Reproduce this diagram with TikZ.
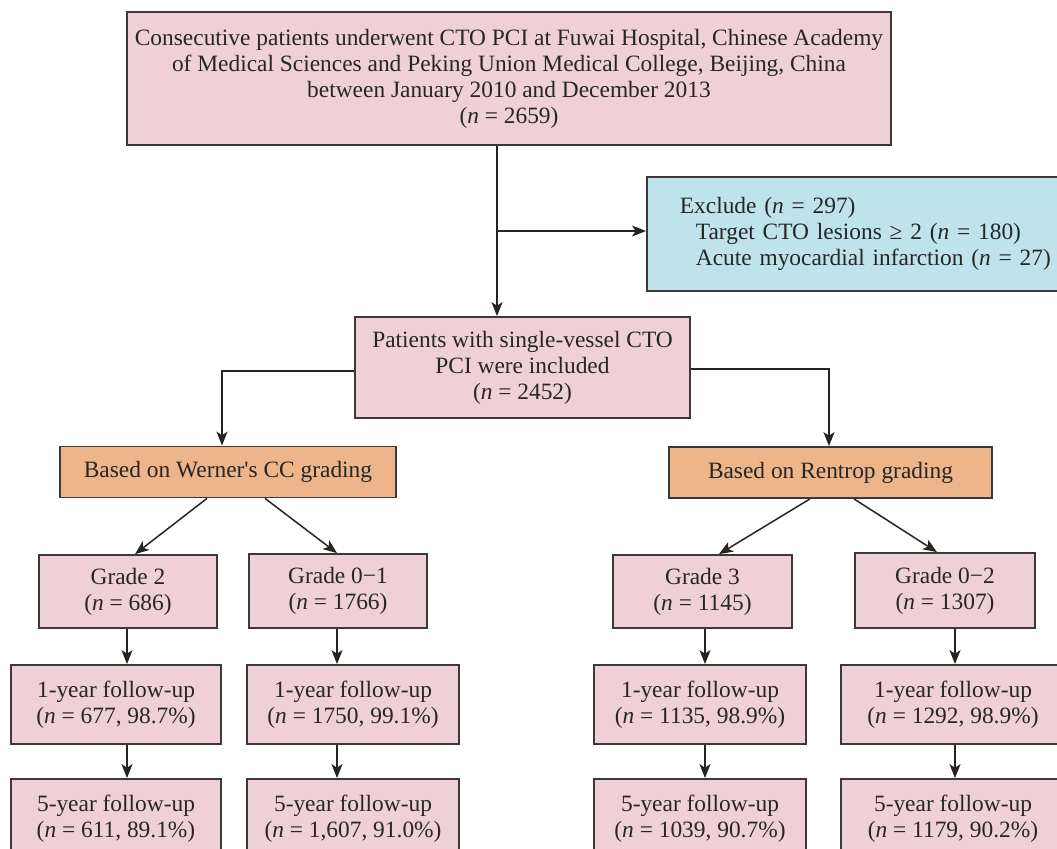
\documentclass[tikz,border=0pt]{standalone}
\usepackage{fontspec}
\setmainfont{Liberation Serif}
\usetikzlibrary{arrows.meta}
\definecolor{pinkf}{RGB}{239,208,214}
\definecolor{bluef}{RGB}{190,227,236}
\definecolor{orangef}{RGB}{237,181,137}
\definecolor{edgec}{RGB}{62,56,56}
\definecolor{linec}{RGB}{40,35,35}
\tikzset{
  box/.style={draw=edgec, line width=0.9pt, fill=pinkf, inner sep=0pt, align=center,
    font=\fontsize{11.7}{13}\selectfont, text=black!85},
  orbox/.style={box, fill=orangef},
  bluebox/.style={box, fill=bluef, align=left},
  arr/.style={draw=linec, line width=0.75pt, -{Stealth[length=7pt,width=5.5pt,inset=1.8pt]}},
}
\newcommand{\nn}{\textit{n}}
\begin{document}
\begin{tikzpicture}[x=0.5pt,y=-0.5pt]
\path[use as bounding box, clip] (0,0) rectangle (1057,848);
% boxes
\node[box, minimum width=382pt, minimum height=66.5pt] (top) at (509,78.5)
  {Consecutive patients underwent CTO PCI at Fuwai Hospital, Chinese Academy\\
   of Medical Sciences and Peking Union Medical College, Beijing, China\\
   between January 2010 and December 2013\\ (\nn{} = 2659)};
\node[bluebox, text width=200pt, inner xsep=16.5pt, minimum height=57pt, anchor=west] (excl) at (646,234)
  {Exclude (\nn{} = 297)\\
   \hspace*{8pt}Target CTO lesions ≥ 2 (\nn{} = 180)\\
   \hspace*{8pt}Acute myocardial infarction (\nn{} = 27)};
\node[box, minimum width=167.5pt, minimum height=50.5pt] (pat) at (522.5,367.5)
  {Patients with single-vessel CTO\\ PCI were included\\ (\nn{} = 2452)};
\node[orbox, minimum width=168.25pt, minimum height=25.5pt] (wer) at (228,472)
  {Based on Werner\textquotesingle s CC grading};
\node[orbox, minimum width=161.5pt, minimum height=25.5pt] (ren) at (830.5,472.5)
  {Based on Rentrop grading};
\node[box, minimum width=89pt, minimum height=36.5pt] (g2) at (128,591.5) {Grade 2\\ (\nn{} = 686)};
\node[box, minimum width=89pt, minimum height=37pt] (g01) at (338,591) {Grade 0−1\\ (\nn{} = 1766)};
\node[box, minimum width=89.5pt, minimum height=36.5pt] (g3) at (702.5,591.5) {Grade 3\\ (\nn{} = 1145)};
\node[box, minimum width=90pt, minimum height=37.5pt] (g02) at (945,590.5) {Grade 0−2\\ (\nn{} = 1307)};
\node[box, minimum width=105.25pt, minimum height=39.5pt] (fa) at (116,704.5) {1-year follow-up\\ (\nn{} = 677, 98.7\%)};
\node[box, minimum width=106pt, minimum height=39.5pt] (fb) at (353,704.5) {1-year follow-up\\ (\nn{} = 1750, 99.1\%)};
\node[box, minimum width=106pt, minimum height=39.5pt] (fc) at (700,704.5) {1-year follow-up\\ (\nn{} = 1135, 98.9\%)};
\node[box, minimum width=112pt, minimum height=39.5pt] (fd) at (953,704.5) {1-year follow-up\\ (\nn{} = 1292, 98.9\%)};
\node[box, minimum width=105.25pt, minimum height=39.5pt] (sa) at (116,818.5) {5-year follow-up\\ (\nn{} = 611, 89.1\%)};
\node[box, minimum width=106pt, minimum height=39.5pt] (sb) at (353,818.5) {5-year follow-up\\ (\nn{} = 1,607, 91.0\%)};
\node[box, minimum width=106pt, minimum height=39.5pt] (sc) at (700,818.5) {5-year follow-up\\ (\nn{} = 1039, 90.7\%)};
\node[box, minimum width=112pt, minimum height=39.5pt] (sd) at (953,818.5) {5-year follow-up\\ (\nn{} = 1179, 90.2\%)};
% helper coordinates
\coordinate (trunk) at (497,231);
\coordinate (wl) at (222,371);
\coordinate (rl) at (829,369);
\coordinate (ca) at (127,0);
\coordinate (cb) at (337,0);
\coordinate (cc) at (705,0);
\coordinate (cd) at (955,0);
% connectors
\draw[arr] (top.south -| trunk) -- (pat.north -| trunk);
\draw[arr] (trunk) -- (excl.west |- trunk);
\draw[arr] (pat.west |- wl) -| (wer.north -| wl);
\draw[arr] (pat.east |- rl) -| (ren.north -| rl);
\draw[arr] ([xshift=-10.5pt]wer.south) -- ([xshift=3.5pt]g2.north);
\draw[arr] ([xshift=18.5pt]wer.south) -- ([xshift=-0.5pt]g01.north);
\draw[arr] ([xshift=-10.25pt]ren.south) -- ([xshift=8.25pt]g3.north);
\draw[arr] ([xshift=11.75pt]ren.south) -- ([xshift=-4pt]g02.north);
\draw[arr] (g2.south -| ca) -- (fa.north -| ca);
\draw[arr] (g01.south -| cb) -- (fb.north -| cb);
\draw[arr] (g3.south -| cc) -- (fc.north -| cc);
\draw[arr] (g02.south -| cd) -- (fd.north -| cd);
\draw[arr] (fa.south -| ca) -- (sa.north -| ca);
\draw[arr] (fb.south -| cb) -- (sb.north -| cb);
\draw[arr] (fc.south -| cc) -- (sc.north -| cc);
\draw[arr] (fd.south -| cd) -- (sd.north -| cd);
\end{tikzpicture}
\end{document}
